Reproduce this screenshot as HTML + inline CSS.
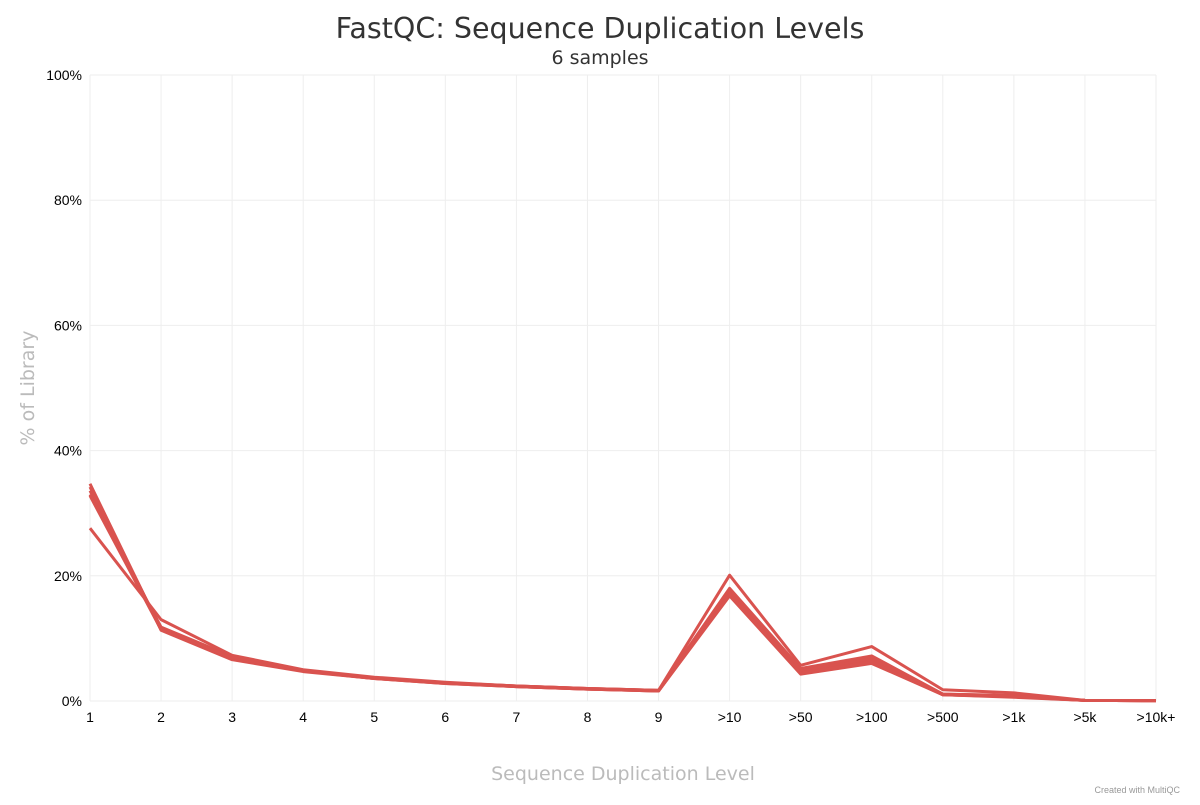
<!DOCTYPE html>
<html><head><meta charset="utf-8"><style>
body{margin:0;background:#fff;width:1200px;height:800px;overflow:hidden;font-family:"Liberation Sans","DejaVu Sans",sans-serif}
</style></head><body>
<svg id="chart" width="1200" height="800" xmlns="http://www.w3.org/2000/svg">
<text x="600" y="38" text-anchor="middle" font-size="28.5" fill="#333" font-family="DejaVu Sans, sans-serif">FastQC: Sequence Duplication Levels</text>
<text x="600" y="64" text-anchor="middle" font-size="19" fill="#333" font-family="DejaVu Sans, sans-serif">6 samples</text>
<text transform="translate(34,388) rotate(-90)" text-anchor="middle" font-size="19" fill="#bbb" font-family="DejaVu Sans, sans-serif">% of Library</text>
<text x="623" y="780" text-anchor="middle" font-size="19" fill="#bbb" font-family="DejaVu Sans, sans-serif">Sequence Duplication Level</text>
<text x="1180" y="793" text-anchor="end" font-size="9" fill="#999">Created with MultiQC</text>
<g id="grid"></g><g id="axes"></g><g id="lines"></g>
</svg>
<script>
const categories=["1","2","3","4","5","6","7","8","9",">10",">50",">100",">500",">1k",">5k",">10k+"];
const yTicks=[0,20,40,60,80,100];
const s1=[34.7,11.3,6.6,4.7,3.6,2.8,2.3,1.9,1.6,16.8,4.3,6.0,1.0,0.6,0.1,0.05];
const s2=[34.2,11.5,6.8,4.8,3.6,2.9,2.3,1.9,1.6,17.2,4.6,6.4,1.0,0.7,0.1,0.05];
const s3=[33.6,11.6,7.0,4.9,3.7,2.9,2.4,2.0,1.7,17.6,4.9,6.8,1.1,0.8,0.1,0.05];
const s4=[33.0,11.8,7.1,4.9,3.7,2.9,2.4,2.0,1.7,18.0,5.2,7.2,1.1,0.9,0.1,0.05];
const s5=[32.8,11.4,6.9,4.8,3.6,2.8,2.3,1.9,1.6,17.0,4.5,6.2,1.0,0.7,0.1,0.05];
const s6=[27.6,13.0,7.3,5.0,3.8,3.0,2.4,2.0,1.7,20.1,5.7,8.7,1.8,1.3,0.1,0.05];
const series=[s1,s2,s3,s4,s5,s6];
const X0=90,X1=1156,Y0=701,Y1=75;
const xs=i=>X0+(X1-X0)*i/(categories.length-1);
const ys=v=>Y0-(Y0-Y1)*v/100;
const NS="http://www.w3.org/2000/svg";
const grid=document.getElementById('grid'),axes=document.getElementById('axes'),lines=document.getElementById('lines');
function mk(tag,attrs,parent){const e=document.createElementNS(NS,tag);for(const k in attrs)e.setAttribute(k,attrs[k]);parent.appendChild(e);return e;}
categories.forEach((c,i)=>{
  const l=mk('line',{x1:xs(i),x2:xs(i),y1:Y1,y2:Y0,stroke:'#eee','stroke-width':1},grid);
  
  
  const t=mk('text',{x:xs(i),y:Y0+21,'text-anchor':'middle','font-size':14,fill:'#000'},axes);
  t.textContent=c;
  
  
});
yTicks.forEach(v=>{
  const l=mk('line',{x1:X0,x2:X1,y1:ys(v),y2:ys(v),stroke:'#eee','stroke-width':1},grid);
  
  
  const t=mk('text',{x:X0-8,y:ys(v)+5,'text-anchor':'end','font-size':14,fill:'#000'},axes);
  t.textContent=v+'%';
  
  
});
series.forEach((s,k)=>{
  const p=mk('polyline',{points:s.map((v,i)=>xs(i)+','+ys(v)).join(' '),fill:'none',stroke:'#d9534f','stroke-width':3,'stroke-linejoin':'round'},lines);
  
  
});
</script>
</body></html>
